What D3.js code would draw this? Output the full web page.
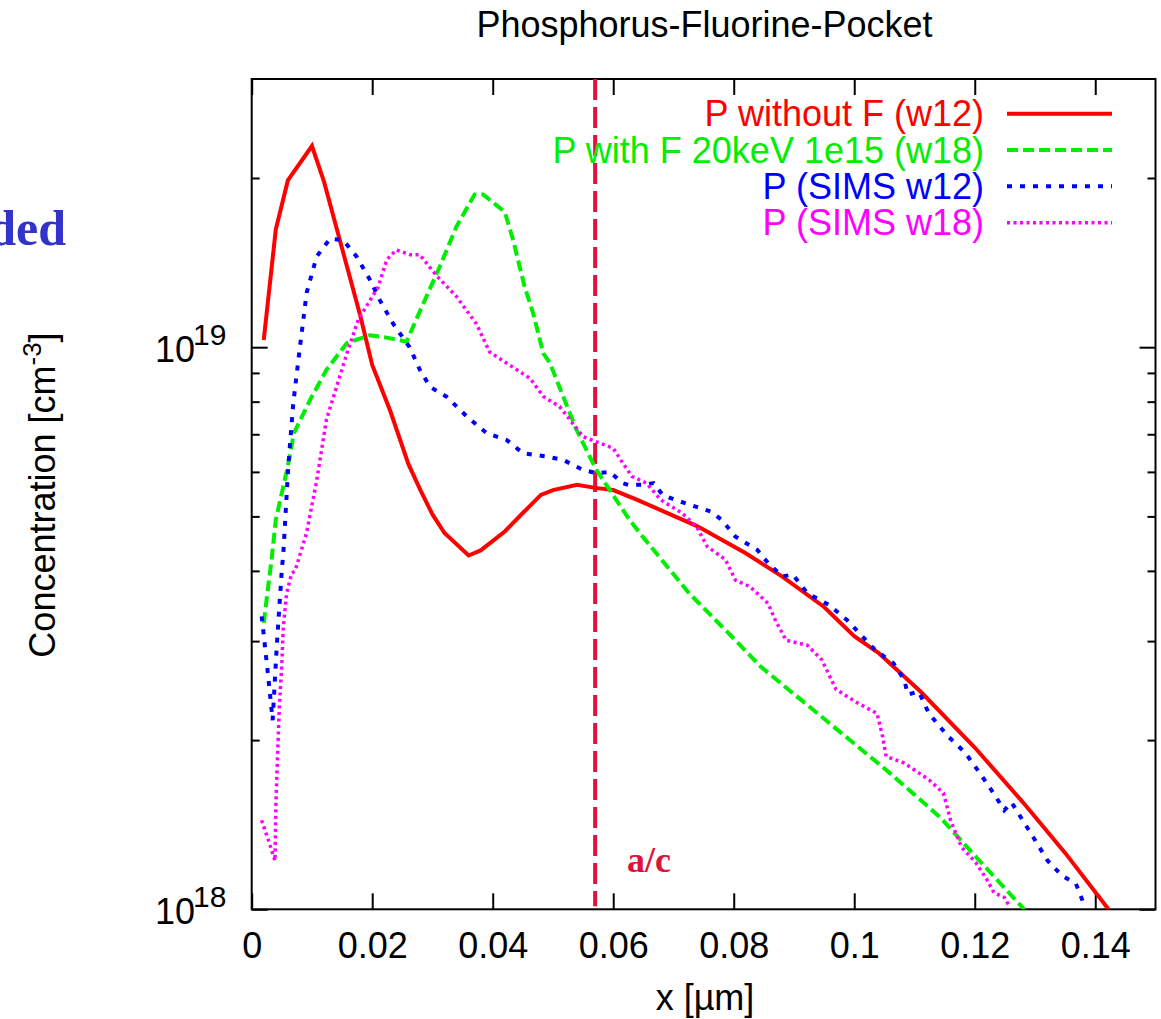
<!DOCTYPE html>
<html>
<head>
<meta charset="utf-8">
<script src="https://cdn.jsdelivr.net/npm/d3@7/dist/d3.min.js"></script>
<style>
  html, body { margin: 0; padding: 0; background: #ffffff; }
  svg { display: block; }
  text { font-family: "Liberation Sans", Arial, Helvetica, sans-serif; }
</style>
</head>
<body>
<svg id="chart" width="1161" height="1019"></svg>
<script>
// ---------------- data (concentration in cm^-3, x in µm) ----------------
const seriesNames = ["P without F (w12)", "P with F 20keV 1e15 (w18)", "P (SIMS w12)", "P (SIMS w18)"];

const redX = [0.002,0.004,0.006,0.010,0.012,0.018,0.020,0.023,0.026,0.028,0.030,0.032,0.036,0.038,0.042,0.045,0.048,0.050,0.054,0.057,0.060,0.064,0.074,0.082,0.088,0.095,0.100,0.104,0.111,0.120,0.128,0.135,0.1422];
const redY = [1.03e19,1.62e19,1.98e19,2.28e19,1.97e19,1.14e19,9.3e18,7.7e18,6.2e18,5.57e18,5.04e18,4.67e18,4.26e18,4.35e18,4.7e18,5.07e18,5.46e18,5.57e18,5.69e18,5.62e18,5.57e18,5.35e18,4.8e18,4.3e18,3.91e18,3.45e18,3.06e18,2.86e18,2.44e18,1.94e18,1.55e18,1.26e18,1.0e18];

const greenX = [0.002,0.0026,0.0033,0.004,0.006,0.007,0.0097,0.0124,0.0158,0.0196,0.0224,0.0257,0.0285,0.0312,0.034,0.037,0.0384,0.042,0.0434,0.0453,0.0467,0.0484,0.0495,0.0517,0.0539,0.0572,0.0627,0.0649,0.0726,0.0803,0.0845,0.0946,0.1053,0.1142,0.1208,0.1282];
const greenY = [3.23e18,3.65e18,4.19e18,4.93e18,6.14e18,7.03e18,8.06e18,9.11e18,1.017e19,1.05e19,1.04e19,1.023e19,1.197e19,1.39e19,1.64e19,1.87e19,1.87e19,1.74e19,1.55e19,1.28e19,1.15e19,9.75e18,9.37e18,8.17e18,7.13e18,6.05e18,4.93e18,4.6e18,3.65e18,3.01e18,2.70e18,2.20e18,1.77e18,1.46e18,1.22e18,1.0e18];

const blueX = [0.00166,0.0026,0.00348,0.00415,0.005,0.00525,0.00607,0.0069,0.008,0.00912,0.01078,0.013,0.0152,0.0174,0.0196,0.0213,0.0235,0.0262,0.0279,0.0296,0.0323,0.0357,0.039,0.0423,0.045,0.0489,0.0517,0.055,0.0572,0.0594,0.0616,0.0625,0.0649,0.0667,0.0682,0.0703,0.0738,0.0762,0.078,0.0803,0.0839,0.0857,0.0881,0.0898,0.0922,0.0958,0.0988,0.1017,0.1035,0.1065,0.1083,0.1089,0.1107,0.1124,0.1154,0.1184,0.1208,0.1231,0.1249,0.1261,0.1285,0.1321,0.1344,0.1368,0.1383];
const blueY = [3.32e18,2.68e18,2.17e18,2.93e18,4.02e18,4.3e18,6.14e18,7.95e18,1.0e19,1.25e19,1.45e19,1.56e19,1.55e19,1.45e19,1.32e19,1.21e19,1.10e19,1.0e19,9.12e18,8.5e18,8.17e18,7.53e18,7.03e18,6.84e18,6.48e18,6.39e18,6.3e18,6.05e18,5.97e18,6.0e18,5.73e18,5.69e18,5.69e18,5.73e18,5.46e18,5.35e18,5.2e18,5.1e18,4.93e18,4.6e18,4.36e18,4.13e18,3.91e18,3.94e18,3.65e18,3.48e18,3.27e18,3.03e18,2.89e18,2.74e18,2.56e18,2.41e18,2.44e18,2.23e18,2.04e18,1.9e18,1.75e18,1.61e18,1.50e18,1.55e18,1.41e18,1.22e18,1.15e18,1.11e18,1.01e18];

const magentaX = [0.00164,0.00275,0.00386,0.00403,0.00431,0.00458,0.00498,0.00524,0.0058,0.00663,0.0072,0.0091,0.0108,0.0124,0.0141,0.0158,0.0177,0.0196,0.021,0.0224,0.024,0.0263,0.0279,0.0307,0.034,0.0373,0.0395,0.0423,0.0462,0.0484,0.0511,0.0528,0.055,0.0578,0.06,0.0616,0.0631,0.0655,0.0679,0.0714,0.0738,0.0756,0.0786,0.0803,0.0827,0.0857,0.0869,0.0887,0.0922,0.0946,0.097,0.1005,0.1038,0.1047,0.1053,0.1083,0.1124,0.1148,0.116,0.1178,0.1202,0.122,0.1232,0.1249,0.1258];
const magentaY = [1.44e18,1.33e18,1.22e18,1.56e18,1.90e18,2.29e18,2.70e18,3.18e18,3.65e18,3.96e18,4.0e18,4.67e18,5.8e18,7.43e18,8.51e18,9.75e18,1.12e19,1.21e19,1.28e19,1.43e19,1.49e19,1.46e19,1.46e19,1.34e19,1.23e19,1.10e19,9.8e18,9.37e18,8.8e18,8.17e18,7.84e18,7.43e18,6.93e18,6.75e18,6.61e18,6.22e18,5.89e18,5.73e18,5.35e18,5.07e18,4.8e18,4.42e18,4.19e18,3.85e18,3.75e18,3.5e18,3.27e18,3.01e18,2.95e18,2.78e18,2.46e18,2.33e18,2.23e18,2.03e18,1.87e18,1.82e18,1.70e18,1.61e18,1.44e18,1.29e18,1.21e18,1.13e18,1.07e18,1.05e18,1.01e18];

const xTicks = [0, 0.02, 0.04, 0.06, 0.08, 0.1, 0.12, 0.14];
const xTickLabels = ["0", "0.02", "0.04", "0.06", "0.08", "0.1", "0.12", "0.14"];
const yMajorTicks = [1e18, 1e19];
const yMajorExponents = ["18", "19"];
const yMinorTicks = [2e18,3e18,4e18,5e18,6e18,7e18,8e18,9e18,2e19];
const acPosition = 0.057;

// ---------------- layout ----------------
const svg = d3.select("#chart");
const L = 251.7, R = 1155.5, T = 79, B = 909.3;
const x = d3.scaleLinear().domain([0, 0.15]).range([L, R]);
const y = d3.scaleLog().domain([1e18, 3e19]).range([B, T]);

const FONT = 36;

svg.append("defs").append("clipPath").attr("id", "plotclip")
  .append("rect").attr("x", L).attr("y", T).attr("width", R - L).attr("height", B - T);

// Title
svg.append("text").attr("x", 704.5).attr("y", 37).attr("text-anchor", "middle")
  .attr("font-size", FONT).attr("fill", "#000").text("Phosphorus-Fluorine-Pocket");

// Clipped slide text at left
svg.append("text").attr("x", 66).attr("y", 245).attr("text-anchor", "end")
  .style("font-family", "'Liberation Serif', 'Times New Roman', serif")
  .attr("font-weight", "bold").attr("font-size", 50).attr("fill", "#3333cc").text("ded");

// ---------------- axes ----------------
function styleAxis(g) {
  g.select(".domain").remove();
  g.selectAll(".tick line").attr("stroke", "#000").attr("stroke-width", 2);
}

const xAxisBottom = d3.axisBottom(x).tickValues(xTicks)
  .tickFormat((d, i) => xTickLabels[i]).tickSizeInner(-16).tickSizeOuter(0).tickPadding(23);
const gxb = svg.append("g").attr("transform", `translate(0,${B})`).call(xAxisBottom);
styleAxis(gxb);
gxb.selectAll(".tick text").attr("font-size", FONT).attr("fill", "#000")
  .style("font-family", "'Liberation Sans', Arial, sans-serif");

const gxt = svg.append("g").attr("transform", `translate(0,${T})`)
  .call(d3.axisTop(x).tickValues(xTicks).tickFormat("").tickSizeInner(-16).tickSizeOuter(0));
styleAxis(gxt);

const gyl = svg.append("g").attr("transform", `translate(${L},0)`)
  .call(d3.axisLeft(y).tickValues(yMinorTicks).tickFormat("").tickSizeInner(-8).tickSizeOuter(0));
styleAxis(gyl);
const gylM = svg.append("g").attr("transform", `translate(${L},0)`)
  .call(d3.axisLeft(y).tickValues(yMajorTicks).tickFormat("").tickSizeInner(-16).tickSizeOuter(0));
styleAxis(gylM);
const gyr = svg.append("g").attr("transform", `translate(${R},0)`)
  .call(d3.axisRight(y).tickValues(yMinorTicks).tickFormat("").tickSizeInner(-8).tickSizeOuter(0));
styleAxis(gyr);
const gyrM = svg.append("g").attr("transform", `translate(${R},0)`)
  .call(d3.axisRight(y).tickValues(yMajorTicks).tickFormat("").tickSizeInner(-16).tickSizeOuter(0));
styleAxis(gyrM);

// y tick labels 10^n
yMajorTicks.forEach((v, i) => {
  const yy = y(v);
  svg.append("text").attr("x", 195).attr("y", yy + 15).attr("text-anchor", "end")
    .attr("font-size", FONT).attr("fill", "#000").text("10");
  svg.append("text").attr("x", 193).attr("y", yy - 2.5).attr("text-anchor", "start")
    .attr("font-size", 30).attr("fill", "#000").text(yMajorExponents[i]);
});

// frame
svg.append("rect").attr("x", L).attr("y", T).attr("width", R - L).attr("height", B - T)
  .attr("fill", "none").attr("stroke", "#000").attr("stroke-width", 2);

// axis labels
svg.append("text").attr("x", 705).attr("y", 1010).attr("text-anchor", "middle")
  .attr("font-size", FONT).attr("fill", "#000").text("x [\u00B5m]");

const yl = svg.append("text").attr("transform", "translate(55,495) rotate(-90)")
  .attr("text-anchor", "middle").attr("font-size", FONT).attr("fill", "#000");
yl.append("tspan").text("Concentration [cm");
yl.append("tspan").attr("font-size", 26).attr("dy", -14).text("-3");
yl.append("tspan").attr("dy", 14).text("]");

// ---------------- curves ----------------
const series = [
  { name: seriesNames[0], xs: redX, ys: redY, color: "#ff0000", dash: null, width: 4 },
  { name: seriesNames[1], xs: greenX, ys: greenY, color: "#00ee00", dash: "11,5", width: 4 },
  { name: seriesNames[2], xs: blueX, ys: blueY, color: "#0000ff", dash: "5,8", width: 4 },
  { name: seriesNames[3], xs: magentaX, ys: magentaY, color: "#ff00ff", dash: "3,3.5", width: 3.5 }
];

const line = d3.line().x(d => x(d[0])).y(d => y(d[1]));
const plot = svg.append("g").attr("clip-path", "url(#plotclip)");

// a/c marker line
plot.append("line").attr("x1", x(acPosition)).attr("x2", x(acPosition))
  .attr("y1", T).attr("y2", B - 3)
  .attr("stroke", "#dc143c").attr("stroke-width", 4).attr("stroke-dasharray", "21,7");

series.forEach(s => {
  const pts = s.xs.map((xv, i) => [xv, s.ys[i]]);
  plot.append("path").datum(pts).attr("d", line)
    .attr("fill", "none").attr("stroke", s.color).attr("stroke-width", s.width)
    .attr("stroke-linejoin", "miter")
    .attr("stroke-dasharray", s.dash);
});

svg.append("text").attr("x", 627).attr("y", 872)
  .style("font-family", "'Liberation Serif', 'Times New Roman', serif")
  .attr("font-weight", "bold").attr("font-size", 36).attr("fill", "#dc143c").text("a/c");

// ---------------- legend ----------------
const legendRowY = [113.7, 150, 186.3, 222.7];
series.forEach((s, i) => {
  const ly = legendRowY[i];
  svg.append("text").attr("x", 984).attr("y", ly + 12.5).attr("text-anchor", "end")
    .attr("font-size", FONT).attr("fill", s.color).text(s.name);
  svg.append("line").attr("x1", 1007).attr("x2", 1112).attr("y1", ly).attr("y2", ly)
    .attr("stroke", s.color).attr("stroke-width", s.width).attr("stroke-dasharray", s.dash);
});
</script>
</body>
</html>
